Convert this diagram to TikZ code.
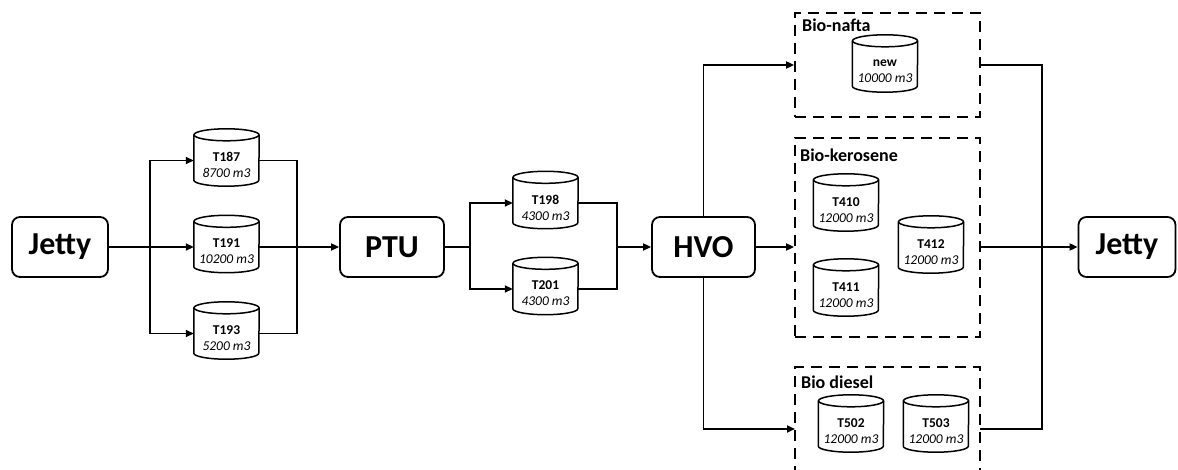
\documentclass[tikz,border=0pt]{standalone}
\usepackage{fontspec}
\setmainfont{Carlito}
\usetikzlibrary{arrows.meta}
\tikzset{
  x=1pt, y=-1pt,
  conn/.style={line width=1.8pt, draw=black},
  arr/.style={conn, -{Triangle[length=8pt,width=7pt]}},
  unit/.style={draw=black, line width=1.8pt, rounded corners=8pt, inner sep=0pt,
    font=\fontsize{32}{34}\selectfont\bfseries},
  tank/.style={inner sep=0pt, minimum width=65pt, minimum height=51pt},
  tanklbl/.style={inner sep=0pt, align=center, font=\fontsize{13.5}{16}\selectfont},
  tankline/.style={draw=black, line width=1.5pt},
  group/.style={draw=black, line width=1.8pt, dash pattern=on 11pt off 7pt, inner sep=0pt},
  grouplbl/.style={inner sep=0pt, anchor=west, font=\fontsize{18}{21}\selectfont\bfseries},
}
\newcommand{\mytank}[4]{%
  \node[tank] (#1) at (#2) {};
  \node[tanklbl] (#1l) at ([yshift=-4.5pt]#1.center) {\textbf{#3}\\\textit{#4}};
  \draw[tankline] (#1.north west) -- ([yshift=6pt]#1.south west)
     arc[start angle=180, end angle=360, x radius=32.5pt, y radius=6pt] -- (#1.north east);
  \draw[tankline] (#1.north) ellipse[x radius=32.5pt, y radius=6pt];
}
\begin{document}
\begin{tikzpicture}
\clip (0,0) rectangle (1178,470);
\useasboundingbox (0,0) rectangle (1178,470);

% process units
\node[unit, minimum width=96pt, minimum height=60pt] (j1) at (60,247) {Jetty};
\node[unit, minimum width=104pt, minimum height=60pt] (ptu) at (392,247) {PTU};
\node[unit, minimum width=103pt, minimum height=60pt] (hvo) at (703.5,247) {HVO};
\node[unit, minimum width=97pt, minimum height=60pt] (j2) at (1127,247) {Jetty};

% tanks
\mytank{t187}{226.5,160.5}{T187}{8700 m3}
\mytank{t191}{226.5,247}{T191}{10200 m3}
\mytank{t193}{226.5,333.5}{T193}{5200 m3}
\mytank{t198}{545.5,203}{T198}{4300 m3}
\mytank{t201}{545.5,289}{T201}{4300 m3}
\mytank{tnew}{885,66.5}{new}{10000 m3}
\mytank{t410}{846,205.5}{T410}{12000 m3}
\mytank{t412}{931,247.5}{T412}{12000 m3}
\mytank{t411}{846,290.5}{T411}{12000 m3}
\mytank{t502}{851,426.5}{T502}{12000 m3}
\mytank{t503}{936,426.5}{T503}{12000 m3}

% groups
\node[group, minimum width=185pt, minimum height=104pt] (nafta) at (887.5,65) {};
\node[group, minimum width=185pt, minimum height=199pt] (kero) at (887.5,237.5) {};
\node[group, minimum width=185pt, minimum height=143pt] (diesel) at (887.5,438.5) {};
\node[grouplbl] (naftal) at (802,25) {Bio-nafta};
\node[grouplbl] (kerol) at (800,155) {Bio-kerosene};
\node[grouplbl] (diesell) at (801,382) {Bio diesel};

% junction coordinates
\coordinate (b1) at (150,247);
\coordinate (m1) at (297,247);
\coordinate (b2) at (470,247);
\coordinate (m2) at (617,247);
\coordinate (din) at (795,429);
\coordinate (dout) at (980,429);
\coordinate (m3) at (1042,247);

% connectors
\draw[arr] (j1.east) -- (t191.west);
\draw[arr] (b1) |- (t187.west);
\draw[arr] (b1) |- (t193.west);
\draw[conn] (t187.east) -| (m1);
\draw[conn] (t193.east) -| (m1);
\draw[arr] (t191.east) -- (ptu.west);

\draw[conn] (ptu.east) -- (b2);
\draw[arr] (b2) |- (t198.west);
\draw[arr] (b2) |- (t201.west);
\draw[conn] (t198.east) -| (m2);
\draw[conn] (t201.east) -| (m2);
\draw[arr] (m2) -- (hvo.west);

\draw[arr] (hvo.north) |- (nafta.west);
\draw[arr] (hvo.east) -- (hvo.east -| kero.west);
\draw[arr] (hvo.south) |- (din);

\draw[conn] (nafta.east) -| (m3);
\draw[conn] (dout) -| (m3);
\draw[arr] (kero.east |- j2.west) -- (j2.west);
\end{tikzpicture}
\end{document}
